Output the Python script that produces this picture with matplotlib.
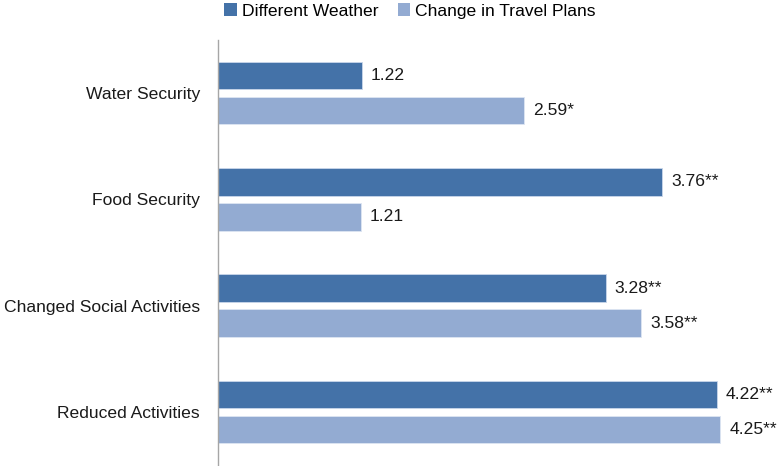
import matplotlib
matplotlib.use("Agg")
import matplotlib.pyplot as plt
from matplotlib.patches import Patch
import numpy as np

categories = ["Water Security", "Food Security", "Changed Social Activities", "Reduced Activities"]
series_names = ["Different Weather", "Change in Travel Plans"]
weather = [1.22, 3.76, 3.28, 4.22]
travel = [2.59, 1.21, 3.58, 4.25]
weather_sig = ["", "**", "**", "**"]
travel_sig = ["*", "", "**", "**"]

dark = "#4472A8"
light = "#93ABD2"

plt.rcParams["font.family"] = ["Liberation Sans", "DejaVu Sans"]
fs = 12.6

fig = plt.figure(figsize=(7.77, 4.66), dpi=100)
ax = fig.add_axes([218 / 777, 1 / 466, 1 - 218 / 777, 425 / 466])

y = np.arange(len(categories))
h = 0.26
off = 0.165
b1 = ax.barh(y - off, weather, height=h, color=dark, edgecolor="#c9d6ea", linewidth=0.6)
b2 = ax.barh(y + off, travel, height=h, color=light, edgecolor="#dde5f2", linewidth=0.6)

for bars, vals, sig in ((b1, weather, weather_sig), (b2, travel, travel_sig)):
    for rect, v, s in zip(bars, vals, sig):
        ax.text(v + 0.075, rect.get_y() + rect.get_height() / 2, f"{v:.2f}{s}",
                va="center", ha="left", fontsize=fs, color="#1a1a1a", clip_on=False)

ax.set_xlim(0, (777 - 218) / 118.2)
ax.set_ylim(3.5, -0.5)
ax.set_yticks(y)
ax.set_yticklabels(categories, fontsize=fs, color="#1a1a1a")
ax.tick_params(axis="y", length=0, pad=13)
ax.set_xticks([])
for side in ("top", "right", "bottom"):
    ax.spines[side].set_visible(False)
ax.spines["left"].set_color("#a6a6a6")
ax.spines["left"].set_linewidth(1.0)

handles = [Patch(facecolor=dark, edgecolor="none"), Patch(facecolor=light, edgecolor="none")]
fig.legend(handles, series_names, loc="center", bbox_to_anchor=(410 / 777, 1 - 11 / 466),
           ncol=2, frameon=False, fontsize=fs, handlelength=0.7, handleheight=0.7,
           handletextpad=0.3, columnspacing=1.1, borderpad=0)

fig.savefig("out.png", dpi=100)
